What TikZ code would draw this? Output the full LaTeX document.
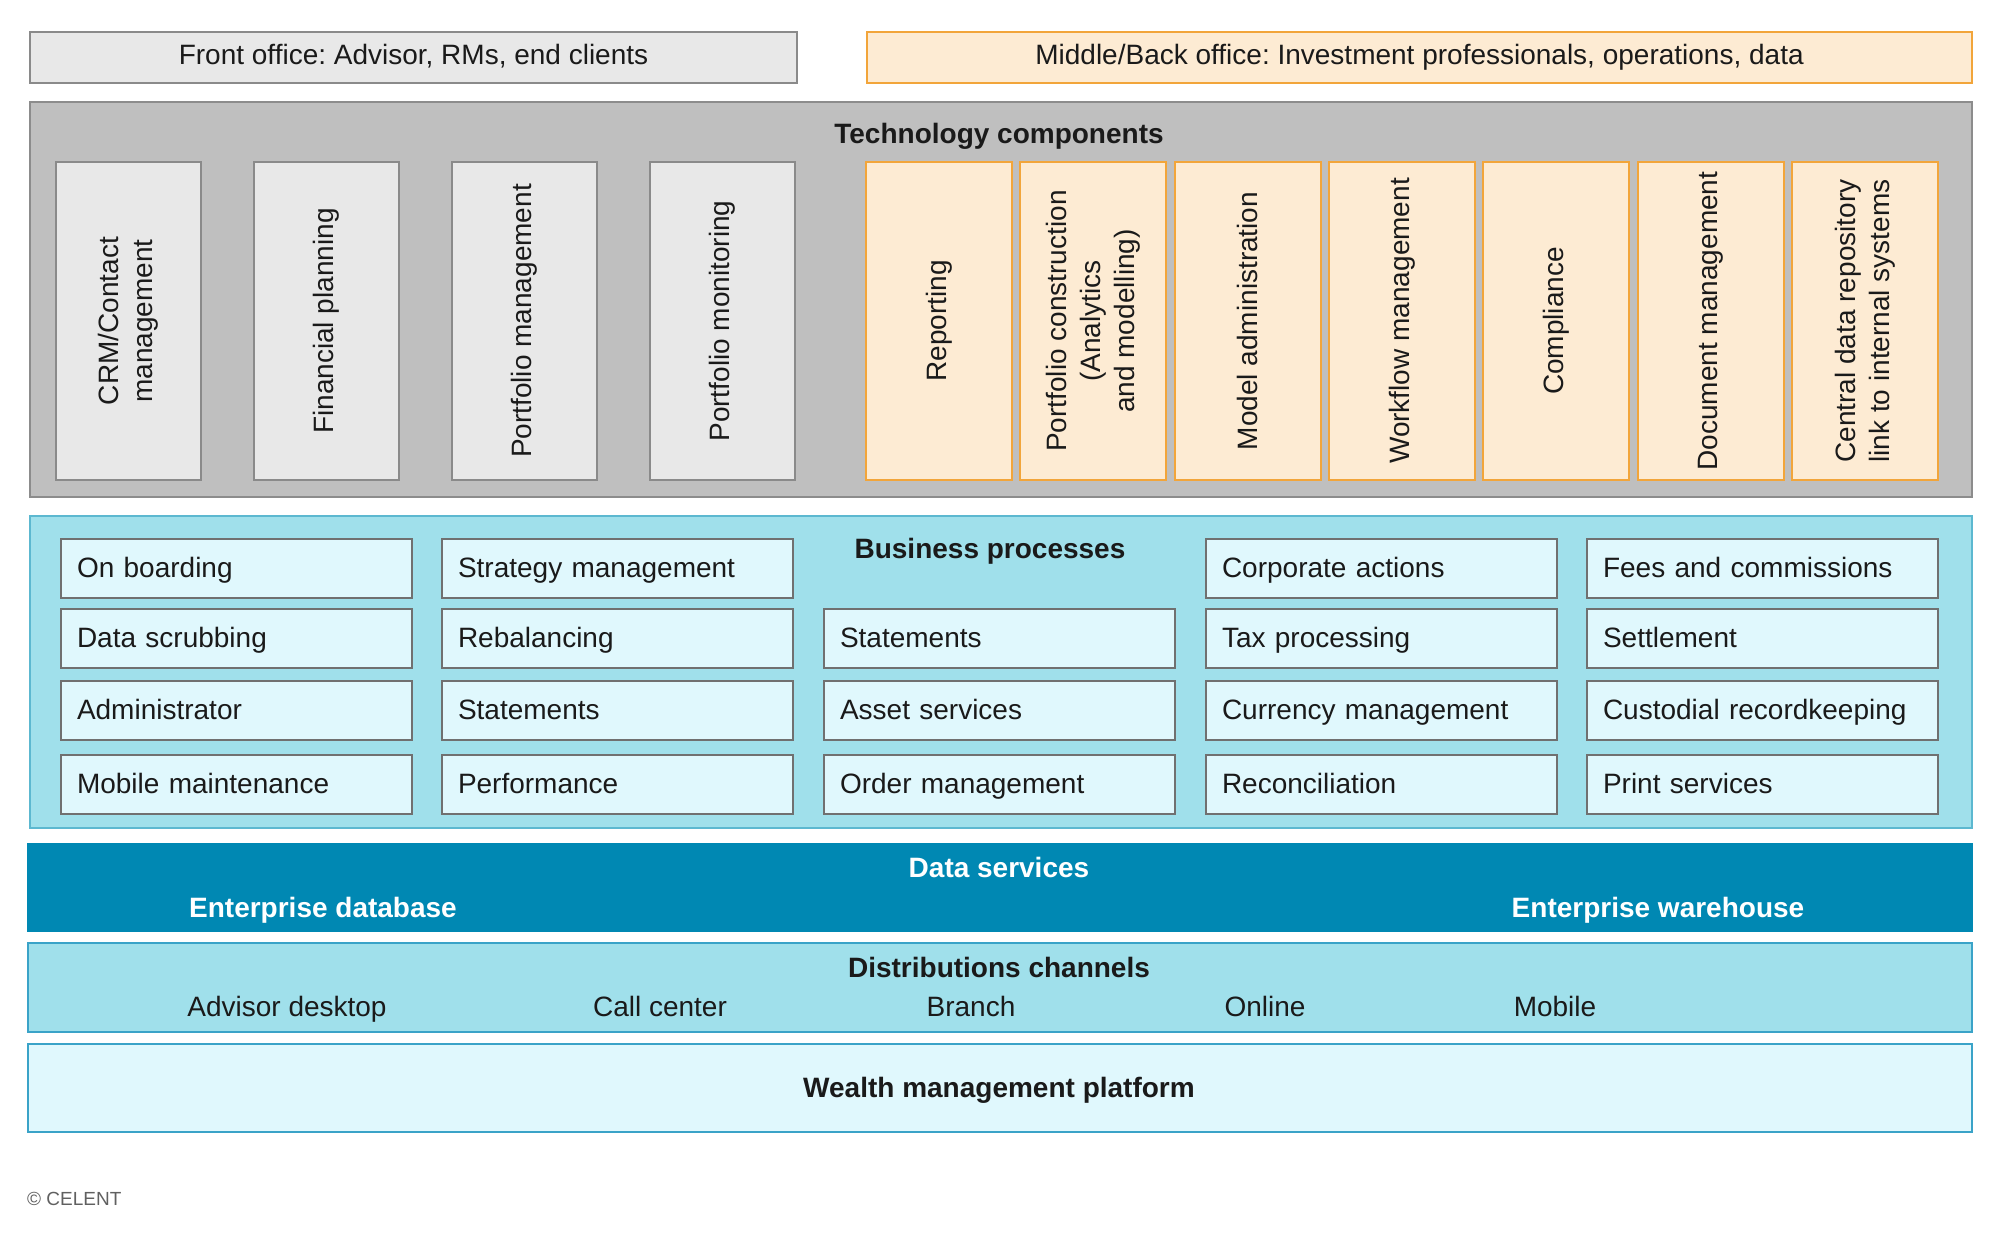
\documentclass[tikz,border=0pt]{standalone}
\usepackage{fontspec}
\setmainfont{Liberation Sans}
\frenchspacing
\definecolor{frontfill}{HTML}{E8E8E8}
\definecolor{frontdraw}{HTML}{8A8A8A}
\definecolor{techfill}{HTML}{BFBFBF}
\definecolor{techdraw}{HTML}{8C8C8C}
\definecolor{orfill}{HTML}{FDEBD3}
\definecolor{ordraw}{HTML}{F2A53A}
\definecolor{bpfill}{HTML}{A0E0EB}
\definecolor{bpdraw}{HTML}{5CB8D0}
\definecolor{boxfill}{HTML}{E0F8FD}
\definecolor{boxdraw}{HTML}{707070}
\definecolor{dsfill}{HTML}{0088B3}
\definecolor{wmdraw}{HTML}{3AA3C8}
\definecolor{txt}{HTML}{1A1A1A}
\definecolor{foot}{HTML}{606060}
\tikzset{
  every node/.style={font=\fontsize{28}{34}\selectfont, text=txt, inner sep=0pt},
  band/.style={draw, line width=2pt, anchor=north west},
  topbox/.style={band, fill=frontfill, draw=frontdraw},
  midbox/.style={band, fill=orfill, draw=ordraw},
  vgray/.style={draw=frontdraw, fill=frontfill, line width=2pt, rotate=90, minimum width=318pt, minimum height=145pt, align=center},
  vorange/.style={draw=ordraw, fill=orfill, line width=2pt, rotate=90, minimum width=318pt, minimum height=146pt, align=center},
  pbox/.style={draw=boxdraw, fill=boxfill, line width=2pt, anchor=north west, minimum height=59pt, text width=319pt, inner xsep=16pt, text height=20pt, text depth=2pt},
  ttl/.style={font=\fontsize{28}{34}\selectfont\bfseries, text height=20pt, text depth=0pt},
  lbl/.style={text height=20pt, text depth=0pt},
  hdr/.style={text height=20pt, text depth=6pt},
}
\begin{document}
\begin{tikzpicture}[x=1pt,y=-1pt]
\useasboundingbox (0,0) rectangle (2000,1232);
% top headers
\node[topbox, minimum width=767pt, minimum height=51pt, hdr] (front) at (29,31) {Front office: Advisor, RMs, end clients};
\node[midbox, minimum width=1105pt, minimum height=51pt, hdr] (middle) at (866,31) {Middle/Back office: Investment professionals, operations, data};
% technology components
\node[band, fill=techfill, draw=techdraw, minimum width=1942pt, minimum height=395pt] (tech) at (29,101) {};
\node[ttl] (techttl) at (999,133) {Technology components};
\node[vgray] (t1) at (128.5,321) {CRM/Contact\\management};
\node[vgray] (t2) at (326.5,321) {Financial planning};
\node[vgray] (t3) at (524.5,321) {Portfolio management};
\node[vgray] (t4) at (722.5,321) {Portfolio monitoring};
\node[vorange] (o1) at (939.0,321) {Reporting};
\node[vorange] (o2) at (1093.3,321) {Portfolio construction\\(Analytics\\and modelling)};
\node[vorange] (o3) at (1247.6,321) {Model administration};
\node[vorange] (o4) at (1401.9,321) {Workflow management};
\node[vorange] (o5) at (1556.2,321) {Compliance};
\node[vorange] (o6) at (1710.5,321) {Document management};
\node[vorange] (o7) at (1864.8,321) {Central data repository\\link to internal systems};
% business processes
\node[band, fill=bpfill, draw=bpdraw, minimum width=1942pt, minimum height=312pt] (bp) at (29,515) {};
\node[ttl] (bpttl) at (990,548) {Business processes};
\node[pbox] (p11) at (60,538) {On boarding};
\node[pbox] (p21) at (60,608) {Data scrubbing};
\node[pbox] (p31) at (60,680) {Administrator};
\node[pbox] (p41) at (60,754) {Mobile maintenance};
\node[pbox] (p12) at (441,538) {Strategy management};
\node[pbox] (p22) at (441,608) {Rebalancing};
\node[pbox] (p32) at (441,680) {Statements};
\node[pbox] (p42) at (441,754) {Performance};
\node[pbox] (p23) at (823,608) {Statements};
\node[pbox] (p33) at (823,680) {Asset services};
\node[pbox] (p43) at (823,754) {Order management};
\node[pbox] (p14) at (1205,538) {Corporate actions};
\node[pbox] (p24) at (1205,608) {Tax processing};
\node[pbox] (p34) at (1205,680) {Currency management};
\node[pbox] (p44) at (1205,754) {Reconciliation};
\node[pbox] (p15) at (1586,538) {Fees and commissions};
\node[pbox] (p25) at (1586,608) {Settlement};
\node[pbox] (p35) at (1586,680) {Custodial recordkeeping};
\node[pbox] (p45) at (1586,754) {Print services};
% data services
\node[band, fill=dsfill, draw=dsfill, minimum width=1944pt, minimum height=87pt] (ds) at (27,843) {};
\node[ttl, text=white] (dsttl) at (999,867) {Data services};
\node[ttl, text=white] (edb) at (323,907) {Enterprise database};
\node[ttl, text=white] (ewh) at (1658,907) {Enterprise warehouse};
% distribution channels
\node[band, fill=bpfill, draw=wmdraw, minimum width=1944pt, minimum height=89pt] (dc) at (27,942) {};
\node[ttl] (dcttl) at (999,967) {Distributions channels};
\node[lbl] (c1) at (287,1006) {Advisor desktop};
\node[lbl] (c2) at (660,1006) {Call center};
\node[lbl] (c3) at (971,1006) {Branch};
\node[lbl] (c4) at (1265,1006) {Online};
\node[lbl] (c5) at (1555,1006) {Mobile};
% wealth management platform
\node[band, fill=boxfill, draw=wmdraw, minimum width=1944pt, minimum height=88pt] (wm) at (27,1043) {};
\node[ttl] (wmttl) at (999,1087) {Wealth management platform};
% footer
\node[anchor=west, text=foot, font=\fontsize{19}{22}\selectfont, text height=14pt, text depth=0pt] (celent) at (27,1198) {© CELENT};
\end{tikzpicture}
\end{document}
